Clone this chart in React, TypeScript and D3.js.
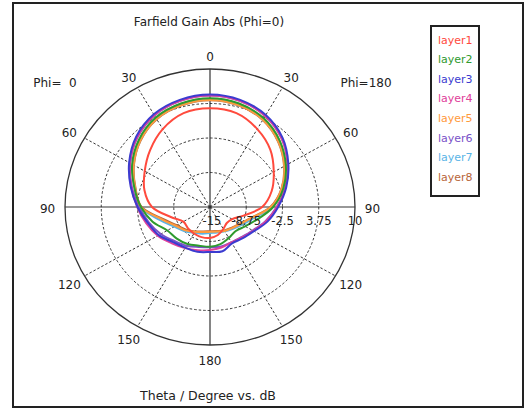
import * as d3 from 'd3'

// theta samples (deg), same for both half-planes
const theta = [0, 15, 30, 45, 60, 75, 90, 105, 120, 135, 150, 165, 180]

const layerNames = ['layer1', 'layer2', 'layer3', 'layer4', 'layer5', 'layer6', 'layer7', 'layer8']
const layerColors = ['#ff4a3d', '#2e9a2e', '#3b3bd0', '#e0409a', '#ff9a3c', '#7a52c8', '#5ab4e6', '#b8663a']

// gain in dB, Phi=0 side (left half)
const phi0 = [
  [2.9, 2.6, 1.3, -0.4, -2.0, -3.3, -5.0, -8.0, -9.7, -9.6, -9.45, -9.35, -9.4],
  [4.7, 4.4, 3.7, 2.3, 0.5, -1.5, -3.1, -4.75, -6.5, -6.9, -7.25, -7.75, -7.8],
  [5.4, 5.1, 4.4, 3.0, 1.1, -0.85, -2.5, -3.9, -4.8, -6.0, -6.5, -6.6, -6.85],
  [5.2, 4.9, 4.2, 2.8, 0.95, -0.95, -2.45, -3.6, -4.6, -5.7, -6.4, -6.9, -7.2],
  [4.4, 4.1, 3.4, 2.0, 0.2, -1.65, -3.1, -6.4, -8.2, -9.0, -9.8, -10.3, -10.5],
  [5.2, 4.9, 4.15, 2.75, 0.9, -1.05, -2.8, -4.1, -5.2, -6.3, -6.9, -7.5, -7.7],
  [4.45, 4.15, 3.45, 2.05, 0.25, -1.55, -3.0, -6.0, -7.9, -8.8, -9.6, -10.0, -10.3],
  [4.35, 4.05, 3.35, 1.95, 0.15, -1.7, -3.2, -6.6, -8.4, -9.2, -9.9, -10.4, -10.6],
]

// gain in dB, Phi=180 side (right half)
const phi180 = [
  [2.9, 2.6, 1.3, -0.3, -2.3, -4.0, -6.0, -9.0, -10.6, -10.9, -10.4, -9.75, -9.4],
  [4.7, 4.4, 3.55, 2.0, 0.1, -1.9, -4.1, -6.5, -8.0, -8.8, -8.5, -8.05, -7.8],
  [5.4, 5.1, 4.25, 2.7, 0.6, -1.4, -3.25, -4.75, -6.25, -7.0, -7.4, -6.7, -6.85],
  [5.2, 4.9, 4.05, 2.5, 0.45, -1.55, -3.45, -5.0, -6.4, -7.2, -7.6, -7.4, -7.2],
  [4.4, 4.1, 3.25, 1.7, -0.2, -2.2, -4.5, -7.5, -8.9, -9.6, -10.0, -10.4, -10.5],
  [5.2, 4.9, 4.05, 2.5, 0.45, -1.55, -3.5, -5.1, -6.5, -7.3, -7.6, -7.6, -7.7],
  [4.45, 4.15, 3.3, 1.75, -0.15, -2.1, -4.3, -7.2, -8.6, -9.4, -9.9, -10.2, -10.3],
  [4.35, 4.05, 3.2, 1.65, -0.25, -2.25, -4.6, -7.6, -9.0, -9.7, -10.1, -10.5, -10.6],
]

const radialTicks = [-15, -8.75, -2.5, 3.75, 10]
const angleLabels = [0, 30, 60, 90, 120, 150, 180]

const FONT = 'DejaVu Sans, Verdana, sans-serif'

export default function App() {
  const cx = 210
  const cy = 207
  const rx = 145
  const ry = 138

  const r = d3.scaleLinear().domain([-15, 10]).range([0, 1]).clamp(true)
  // angle a in degrees, clockwise from top (negative = Phi=0 side)
  const px = (a: number, v: number) => cx + v * rx * Math.sin((a * Math.PI) / 180)
  const py = (a: number, v: number) => cy - v * ry * Math.cos((a * Math.PI) / 180)

  const line = d3
    .line<[number, number]>()
    .x((d) => px(d[0], r(d[1])))
    .y((d) => py(d[0], r(d[1])))
    .curve(d3.curveCatmullRomClosed.alpha(0.5))

  const layerPath = (i: number) => {
    const pts: [number, number][] = []
    theta.forEach((t, k) => pts.push([t, phi180[i][k]]))
    for (let k = theta.length - 2; k > 0; k--) pts.push([-theta[k], phi0[i][k]])
    return line(pts) || ''
  }

  const spokes = d3.range(0, 360, 30)
  const dash = '2.5,2'

  return (
    <svg
      width={525}
      height={410}
      style={{ position: 'absolute', left: 0, top: 0, background: '#fff' }}
      fontFamily={FONT}
    >
      <rect x={13} y={3} width={510} height={404} fill="#fff" stroke="#222" strokeWidth={2} />

      <text x={209} y={22} fontSize={12} textAnchor="middle" dominantBaseline="central" fill="#222">
        Farfield Gain Abs (Phi=0)
      </text>

      {/* rings */}
      {radialTicks.slice(1, 4).map((t) => (
        <ellipse key={t} cx={cx} cy={cy} rx={r(t) * rx} ry={r(t) * ry} fill="none" stroke="#333" strokeDasharray={dash} />
      ))}
      <ellipse cx={cx} cy={cy} rx={rx} ry={ry} fill="none" stroke="#333" strokeWidth={1.3} />

      {/* spokes */}
      {spokes
        .filter((a) => a % 90 !== 0)
        .map((a) => (
          <line key={a} x1={cx} y1={cy} x2={px(a, 1)} y2={py(a, 1)} stroke="#333" strokeDasharray={dash} />
        ))}
      <line x1={px(-90, 1)} y1={cy} x2={px(90, 1)} y2={cy} stroke="#333" strokeWidth={1.2} />
      <line x1={cx} y1={py(0, 1)} x2={cx} y2={py(180, 1)} stroke="#333" strokeWidth={1.2} />

      {/* angle labels */}
      {angleLabels.flatMap((a) => {
        const sides = a === 0 || a === 180 ? [a] : [-a, a]
        return sides.map((s) => (
          <text
            key={s}
            x={px(s, 1.12)}
            y={py(s, 1.1) + 2}
            fontSize={12}
            textAnchor="middle"
            dominantBaseline="central"
            fill="#222"
          >
            {a}
          </text>
        ))
      })}
      <text x={55} y={83} fontSize={12} textAnchor="middle" dominantBaseline="central" fill="#222">
        {'Phi=\u00a0 0'}
      </text>
      <text x={366} y={83} fontSize={12} textAnchor="middle" dominantBaseline="central" fill="#222">
        Phi=180
      </text>

      {/* curves, last layers underneath */}
      {layerNames
        .map((n, i) => ({ n, i }))
        .reverse()
        .map(({ n, i }) => (
          <path key={n} d={layerPath(i)} fill="none" stroke={layerColors[i]} strokeWidth={2} />
        ))}

      {/* radial tick labels */}
      {radialTicks.map((t) => (
        <text
          key={t}
          x={px(90, r(t)) + (t === -15 ? 2 : 0)}
          y={221}
          fontSize={11.5}
          textAnchor="middle"
          dominantBaseline="central"
          fill="#222"
        >
          {t}
        </text>
      ))}

      <text x={208} y={395} fontSize={12.5} textAnchor="middle" dominantBaseline="central" fill="#222">
        Theta / Degree vs. dB
      </text>

      {/* legend */}
      <rect x={431} y={26} width={48} height={170} fill="#fff" stroke="#222" strokeWidth={2} />
      {layerNames.map((n, i) => (
        <text key={n} x={438} y={40 + i * 19.6} fontSize={11} dominantBaseline="central" fill={layerColors[i]}>
          {n}
        </text>
      ))}
    </svg>
  )
}
